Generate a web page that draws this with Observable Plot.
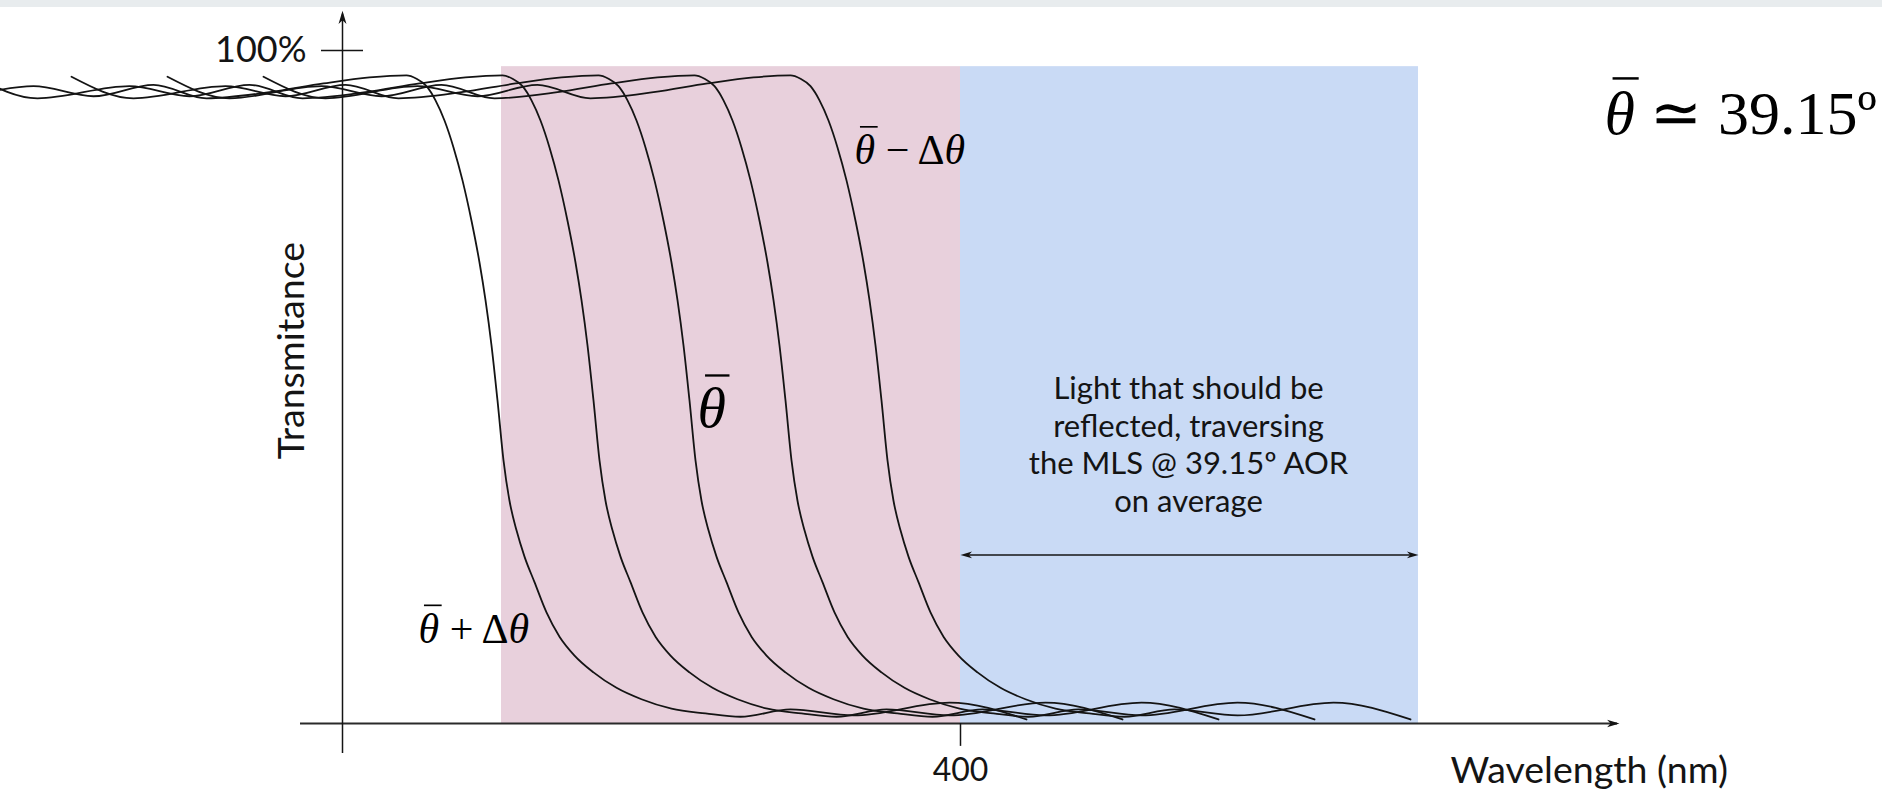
<!DOCTYPE html>
<html><head><meta charset="utf-8">
<script src="https://cdn.jsdelivr.net/npm/d3@7"></script>
<script src="https://cdn.jsdelivr.net/npm/@observablehq/plot@0.6"></script>
<style>
html,body{margin:0;padding:0;background:#fff;overflow:hidden;}
#band{position:absolute;left:0;top:0;width:1882px;height:7px;background:#e8ecee;}
#chart{position:absolute;left:0;top:0;}
</style></head><body>
<div id="chart"></div><div id="band"></div>
<script>
// ---- data (wavelength in nm, transmittance in %) ----
const curveNames = ["θ̄ + Δθ", "θ̄ + Δθ/2", "θ̄", "θ̄ − Δθ/2", "θ̄ − Δθ"];
const curveStartNm = [129.75, 153.75, 177.75, 201.75, 225.75];
const profileOffsetNm = [0, 15.5, 38.5, 53.5, 68.5, 81.75, 97.5, 111, 122.5, 131.75,
  134.25, 136.75, 139, 141.25, 143.5, 145.75, 148, 150, 151.5, 153, 154.5, 156, 157.5, 159.25, 161.25,
  163.75, 166.75, 170, 173.75, 178.5, 184.25, 190.5, 198, 206.5, 215.25, 227.75, 243.5, 267.5, 286.75];
const profileTransmittance = [96.1, 92.9, 94.7, 93.2, 94.9, 92.9, 93.8, 95.1, 96.0, 96.3,
  95.8, 94.7, 92.6, 89.6, 85.6, 80.7, 74.7, 68.5, 62.9, 56.2, 48.0, 39.1, 33.1, 28.7, 24.8,
  21.0, 16.5, 12.9, 10.1, 7.6, 5.3, 3.6, 2.2, 1.5, 1.0, 2.1, 1.2, 3.1, 0.6];

const xTicks = [400];
const xTickLabels = ["400"];
const yTicks = [100];
const yTickLabels = ["100%"];

const reflectedBand = [285.25, 400];   // pink
const targetBand = [400, 514.5];       // blue
const bandTop = 97.6;

const xAxisExtent = [235, 564.75];
const yAxisAt = 245.5;
const yAxisExtent = [-4.46, 105.9];
const arrowLevel = 25.05;

const annotationText = "Light that should be\nreflected, traversing\nthe MLS @ 39.15º AOR\non average";
const mathLabels = [
  {x: 373.5, y: 85.1, text: "θ\u0304 − Δθ", size: 42},
  {x: 264.5, y: 14.0, text: "θ\u0304 + Δθ", size: 42},
  {x: 334.25, y: 46.8, text: "θ\u0304", size: 58},
  {x: 561, y: 90.6, text: "θ\u0304 ≃ 39.15º", size: 62}
];

// ---- build ----
const points = curveStartNm.flatMap((s, i) =>
  profileOffsetNm.map((o, j) => ({curve: curveNames[i], x: s + o, y: profileTransmittance[j]})));

function headSymbol(dir) {
  return {draw(ctx, size) {
    const L = Math.sqrt(size), w = L * 0.3, n = L * 0.72;
    const pts = [[0, 0], [w, L], [0, n], [-w, L]].map(([a, b]) => {
      if (dir === "up") return [a, b];
      if (dir === "right") return [-b, a];
      return [b, a]; // left
    });
    ctx.moveTo(pts[0][0], pts[0][1]);
    for (let k = 1; k < pts.length; k++) ctx.lineTo(pts[k][0], pts[k][1]);
    ctx.closePath();
  }};
}

const ink = "#141414";
const plot = Plot.plot({
  width: 1882,
  height: 792,
  x: {domain: [160, 630.5], range: [0, 1882]},
  y: {domain: [0, 100], range: [723, 50]},
  axis: null,
  style: {fontFamily: "Lato", background: "transparent", color: ink},
  marks: [
    Plot.rect([reflectedBand], {x1: d => d[0], x2: d => d[1], y1: 0, y2: bandTop, fill: "#e8d0dc"}),
    Plot.rect([targetBand], {x1: d => d[0], x2: d => d[1], y1: 0, y2: bandTop, fill: "#c9daf5"}),
    Plot.ruleY([0], {x1: xAxisExtent[0], x2: xAxisExtent[1] - 0.5, stroke: "#2a2a2a", strokeWidth: 2}),
    Plot.ruleX([yAxisAt], {y1: yAxisExtent[0], y2: yAxisExtent[1] - 0.5, stroke: ink, strokeWidth: 1.5}),
    Plot.dot([0], {x: yAxisAt, y: yAxisExtent[1], r: 7.5, symbol: headSymbol("up"), fill: ink, stroke: "none"}),
    Plot.dot([0], {x: xAxisExtent[1], y: 0, r: 7, symbol: headSymbol("right"), fill: ink, stroke: "none"}),
    Plot.ruleY(yTicks, {x1: 240.25, x2: 250.75, stroke: ink, strokeWidth: 1.5}),
    Plot.ruleX(xTicks, {y1: 0, y2: -3.4, stroke: ink, strokeWidth: 1.5}),
    Plot.line(points, {x: "x", y: "y", z: "curve", stroke: ink, strokeWidth: 1.8, curve: "monotone-x"}),
    Plot.ruleY([arrowLevel], {x1: targetBand[0] + 1, x2: targetBand[1] - 1, stroke: ink, strokeWidth: 1.5}),
    Plot.dot([0], {x: targetBand[1], y: arrowLevel, r: 6.5, symbol: headSymbol("right"), fill: ink, stroke: "none"}),
    Plot.dot([0], {x: targetBand[0], y: arrowLevel, r: 6.5, symbol: headSymbol("left"), fill: ink, stroke: "none"}),
    Plot.text(yTicks, {x: 236.5, y: d => d, text: (d, i) => yTickLabels[i], textAnchor: "end", fontSize: 36, fill: ink}),
    Plot.text(xTicks, {x: d => d, y: -7, text: (d, i) => xTickLabels[i], fontSize: 32, fill: ink}),
    Plot.text(["Wavelength (nm)"], {x: 522.5, y: -7, text: d => d, textAnchor: "start", fontSize: 37.5, fill: ink}),
    Plot.text(["Transmitance"], {x: 232.75, y: 55.4, text: d => d, rotate: -90, fontSize: 37.5, fill: ink}),
    Plot.text([annotationText], {x: 457, y: 41.6, text: d => d, fontSize: 31, lineHeight: 1.21, fill: ink}),
    Plot.text(mathLabels, {x: "x", y: "y", text: "text", fontSize: "size", textAnchor: "start", fontFamily: "Liberation Serif", fill: "#000"})
  ]
});

document.getElementById("chart").appendChild(plot);

// typeset math labels: italic θ, thin bar above θ̄
const svgNS = "http://www.w3.org/2000/svg";
plot.querySelectorAll("text").forEach(el => {
  const src = Array.from(el.textContent);
  if (!src.includes("θ")) return;
  const glyphs = [];
  for (let i = 0; i < src.length; i++) {
    const bar = src[i + 1] === "\u0304";
    glyphs.push({c: src[i], bar});
    if (bar) i++;
  }
  while (el.firstChild) el.removeChild(el.firstChild);
  glyphs.forEach(g => {
    const t = document.createElementNS(svgNS, "tspan");
    if (g.c === "θ") t.setAttribute("font-style", "italic");
    t.textContent = g.c;
    el.appendChild(t);
  });
  const fs = parseFloat(getComputedStyle(el).fontSize);
  glyphs.forEach((g, k) => {
    if (!g.bar) return;
    const p0 = el.getStartPositionOfChar(k), p1 = el.getEndPositionOfChar(k);
    const line = document.createElementNS(svgNS, "line");
    line.setAttribute("x1", p0.x + 0.13 * fs);
    line.setAttribute("x2", p1.x + 0.06 * fs);
    line.setAttribute("y1", p0.y - 0.89 * fs);
    line.setAttribute("y2", p0.y - 0.89 * fs);
    line.setAttribute("stroke", "#000");
    line.setAttribute("stroke-width", Math.max(1.5, 0.04 * fs));
    const tr = el.getAttribute("transform");
    if (tr) line.setAttribute("transform", tr);
    el.parentNode.appendChild(line);
  });
});
</script>
</body></html>
